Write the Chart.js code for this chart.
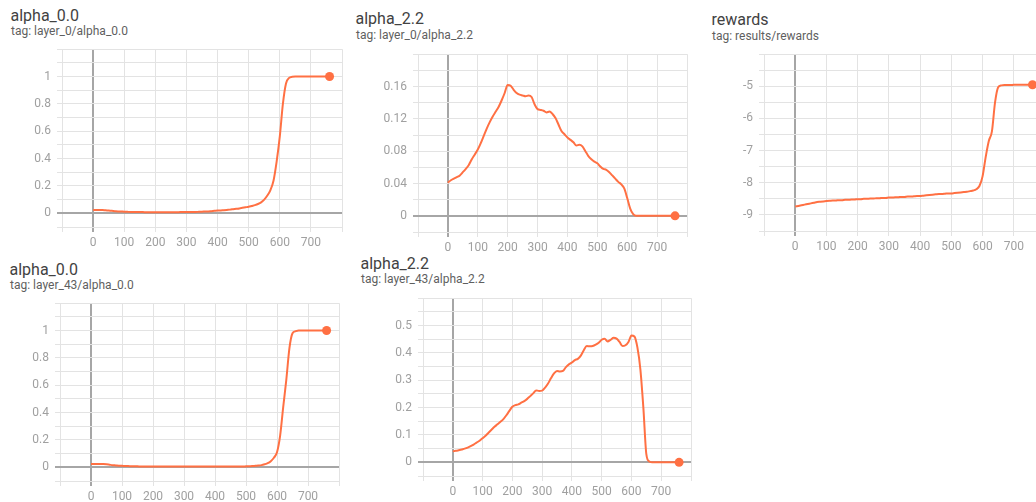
<!DOCTYPE html>
<html>
<head>
<meta charset="utf-8">
<script src="https://cdn.jsdelivr.net/npm/chart.js@4.4.1/dist/chart.umd.min.js"></script>
<style>
  html, body { margin: 0; padding: 0; width: 1036px; height: 502px; overflow: hidden; background: #fff; }
  body { position: relative; font-family: Roboto, "Noto Sans", sans-serif; }
  .title { position: absolute; font-size: 16px; line-height: 16px; color: #424242; white-space: nowrap; }
  .tag { position: absolute; font-size: 12px; line-height: 12px; color: #5f5f5f; white-space: nowrap; }
  canvas { position: absolute; }
</style>
</head>
<body>
<div class="title" style="left:10.5px;top:8px">alpha_0.0</div>
<div class="tag" style="left:11px;top:25px">tag: layer_0/alpha_0.0</div>
<div class="title" style="left:355.5px;top:11px">alpha_2.2</div>
<div class="tag" style="left:356px;top:29px">tag: layer_0/alpha_2.2</div>
<div class="title" style="left:711.5px;top:12px">rewards</div>
<div class="tag" style="left:712px;top:30px">tag: results/rewards</div>
<div class="title" style="left:9.5px;top:261.5px">alpha_0.0</div>
<div class="tag" style="left:10px;top:279px">tag: layer_43/alpha_0.0</div>
<div class="title" style="left:360.5px;top:256px">alpha_2.2</div>
<div class="tag" style="left:361px;top:272.5px">tag: layer_43/alpha_2.2</div>

<canvas id="c1" width="352" height="221" style="left:2px;top:36px"></canvas>
<canvas id="c2" width="341" height="221" style="left:358px;top:41px"></canvas>
<canvas id="c3" width="353" height="220" style="left:704px;top:41px"></canvas>
<canvas id="c4" width="351" height="221" style="left:0px;top:290px"></canvas>
<canvas id="c5" width="340" height="221" style="left:363px;top:285px"></canvas>

<script>
// Training steps shared by every run
const steps = [
  0, 10, 20, 30, 40, 50, 60, 70, 80, 90,
  100, 110, 120, 130, 140, 150, 160, 170, 180, 190,
  200, 210, 220, 230, 240, 250, 260, 270, 280, 290,
  300, 310, 320, 330, 340, 350, 360, 370, 380, 390,
  400, 410, 420, 430, 440, 450, 460, 470, 480, 490,
  500, 510, 520, 530, 540, 550, 560, 570, 580, 590,
  600, 610, 620, 630, 640, 650, 660, 670, 680, 690,
  700, 710, 720, 730, 740, 750, 760
];

// layer_0/alpha_0.0
const layer0Alpha00 = [
  0.025, 0.025, 0.025, 0.024, 0.022, 0.020, 0.018, 0.016, 0.014, 0.013,
  0.012, 0.011, 0.010, 0.010, 0.009, 0.009, 0.009, 0.008, 0.008, 0.008,
  0.008, 0.008, 0.008, 0.008, 0.008, 0.008, 0.008, 0.008, 0.009, 0.009,
  0.009, 0.009, 0.010, 0.010, 0.011, 0.012, 0.013, 0.014, 0.016, 0.018,
  0.020, 0.021, 0.023, 0.025, 0.027, 0.030, 0.033, 0.036, 0.040, 0.044,
  0.048, 0.054, 0.060, 0.068, 0.080, 0.100, 0.130, 0.170, 0.240, 0.380,
  0.560, 0.800, 0.950, 0.990, 0.998, 1.000, 1.000, 1.000, 1.000, 1.000,
  1.000, 1.000, 1.000, 1.000, 1.000, 1.000, 1.000
];

// layer_0/alpha_2.2
const layer0Alpha22 = [
  0.041, 0.044, 0.046, 0.048, 0.050, 0.054, 0.058, 0.063, 0.070, 0.076,
  0.082, 0.090, 0.099, 0.108, 0.116, 0.123, 0.129, 0.135, 0.143, 0.152,
  0.162, 0.161, 0.156, 0.152, 0.150, 0.149, 0.148, 0.149, 0.147, 0.138,
  0.132, 0.131, 0.130, 0.128, 0.129, 0.126, 0.121, 0.113, 0.105, 0.101,
  0.097, 0.094, 0.091, 0.087, 0.088, 0.086, 0.080, 0.074, 0.070, 0.067,
  0.065, 0.061, 0.058, 0.057, 0.054, 0.050, 0.046, 0.042, 0.039, 0.034,
  0.022, 0.009, 0.002, 0.000, 0.000, 0.000, 0.000, 0.000, 0.000, 0.000,
  0.000, 0.000, 0.000, 0.000, 0.000, 0.000, 0.000
];

// results/rewards
const rewards = [
  -8.74, -8.72, -8.70, -8.68, -8.66, -8.64, -8.62, -8.60, -8.59, -8.58,
  -8.57, -8.56, -8.55, -8.55, -8.54, -8.54, -8.53, -8.53, -8.52, -8.52,
  -8.51, -8.51, -8.50, -8.50, -8.49, -8.49, -8.48, -8.48, -8.47, -8.47,
  -8.46, -8.46, -8.45, -8.45, -8.44, -8.44, -8.43, -8.43, -8.42, -8.41,
  -8.41, -8.40, -8.39, -8.38, -8.37, -8.36, -8.35, -8.35, -8.34, -8.33,
  -8.33, -8.32, -8.31, -8.30, -8.29, -8.28, -8.26, -8.24, -8.20, -8.10,
  -7.80, -7.20, -6.70, -6.40, -5.50, -5.03, -4.97, -4.96, -4.96, -4.96,
  -4.95, -4.95, -4.95, -4.95, -4.95, -4.95, -4.95
];

// layer_43/alpha_0.0
const layer43Alpha00 = [
  0.025, 0.025, 0.025, 0.025, 0.024, 0.022, 0.019, 0.016, 0.014, 0.012,
  0.011, 0.010, 0.009, 0.008, 0.007, 0.007, 0.006, 0.006, 0.006, 0.006,
  0.006, 0.006, 0.006, 0.006, 0.006, 0.006, 0.006, 0.006, 0.006, 0.006,
  0.006, 0.006, 0.006, 0.006, 0.006, 0.006, 0.006, 0.006, 0.006, 0.006,
  0.006, 0.006, 0.006, 0.006, 0.006, 0.006, 0.006, 0.006, 0.006, 0.006,
  0.007, 0.008, 0.009, 0.011, 0.013, 0.016, 0.022, 0.030, 0.045, 0.070,
  0.110, 0.230, 0.440, 0.640, 0.870, 0.980, 0.995, 1.000, 1.000, 1.000,
  1.000, 1.000, 1.000, 1.000, 1.000, 1.000, 1.000
];

// layer_43/alpha_2.2
const layer43Alpha22 = [
  0.040, 0.042, 0.044, 0.047, 0.050, 0.054, 0.059, 0.065, 0.072, 0.079,
  0.088, 0.097, 0.108, 0.119, 0.130, 0.139, 0.148, 0.158, 0.172, 0.188,
  0.203, 0.209, 0.212, 0.218, 0.224, 0.232, 0.242, 0.252, 0.263, 0.261,
  0.262, 0.273, 0.288, 0.308, 0.325, 0.334, 0.332, 0.334, 0.348, 0.358,
  0.365, 0.374, 0.378, 0.390, 0.410, 0.425, 0.424, 0.425, 0.430, 0.437,
  0.448, 0.452, 0.442, 0.448, 0.455, 0.452, 0.440, 0.425, 0.428, 0.440,
  0.464, 0.460, 0.420, 0.340, 0.200, 0.030, 0.003, 0.000, 0.000, 0.000,
  0.000, 0.000, 0.000, 0.000, 0.000, 0.000, 0.000
];

// Axis tick labels
const stepLabels = [0, 100, 200, 300, 400, 500, 600, 700];
const alpha00Labels = [0, 0.2, 0.4, 0.6, 0.8, 1];
const layer0Alpha22Labels = [0, 0.04, 0.08, 0.12, 0.16];
const rewardLabels = [-9, -8, -7, -6, -5];
const layer43Alpha22Labels = [0, 0.1, 0.2, 0.3, 0.4, 0.5];

const LINE = '#ff7043';
const GRID = '#e3e3e3';
const ZERO = '#a6a6a6';
const TICK_TEXT = '#a0a0a0';
const FONT = { family: 'Roboto', size: 12 };

const isZero = v => Math.abs(v) < 1e-9;
const fmt = v => String(Number(v.toFixed(4)));
const labelFrom = list => v => list.some(l => Math.abs(l - v) < 1e-9) ? fmt(v) : '';

function gridOpts() {
  return {
    color: c => (c.tick && isZero(c.tick.value)) ? ZERO : GRID,
    lineWidth: c => (c.tick && isZero(c.tick.value)) ? 2 : 1,
    drawTicks: true,
    tickLength: 5
  };
}

function makeChart(id, values, yMin, yMax, yStep, yLabels) {
  const last = values.length - 1;
  return new Chart(document.getElementById(id), {
    type: 'line',
    data: {
      datasets: [{
        data: steps.map((s, i) => ({ x: s, y: values[i] })),
        borderColor: LINE,
        backgroundColor: LINE,
        borderWidth: 2,
        cubicInterpolationMode: 'monotone',
        pointRadius: ctx => ctx.dataIndex === last ? 4.5 : 0,
        pointHoverRadius: 0,
        pointBorderWidth: 0,
        fill: false
      }]
    },
    options: {
      responsive: false,
      animation: false,
      events: [],
      layout: { padding: { top: 12, right: 12, left: 0, bottom: 0 } },
      plugins: { legend: { display: false }, tooltip: { enabled: false }, title: { display: false } },
      scales: {
        x: {
          type: 'linear',
          min: -100,
          max: 800,
          border: { display: false },
          grid: gridOpts(),
          ticks: {
            stepSize: 100,
            autoSkip: false,
            maxRotation: 0,
            padding: 4,
            color: TICK_TEXT,
            font: FONT,
            callback: labelFrom(stepLabels)
          },
          afterFit: s => { s.height = 30; }
        },
        y: {
          type: 'linear',
          min: yMin,
          max: yMax,
          border: { display: false },
          grid: gridOpts(),
          ticks: {
            stepSize: yStep,
            autoSkip: false,
            padding: 6,
            color: TICK_TEXT,
            font: FONT,
            callback: labelFrom(yLabels)
          },
          afterFit: s => { s.width = 60; }
        }
      }
    }
  });
}

makeChart('c1', layer0Alpha00, -0.1, 1.2, 0.1, alpha00Labels);
makeChart('c2', layer0Alpha22, -0.02, 0.2, 0.02, layer0Alpha22Labels);
makeChart('c3', rewards, -9.5, -4, 0.5, rewardLabels);
makeChart('c4', layer43Alpha00, -0.1, 1.2, 0.1, alpha00Labels);
makeChart('c5', layer43Alpha22, -0.05, 0.6, 0.05, layer43Alpha22Labels);
</script>
</body>
</html>
